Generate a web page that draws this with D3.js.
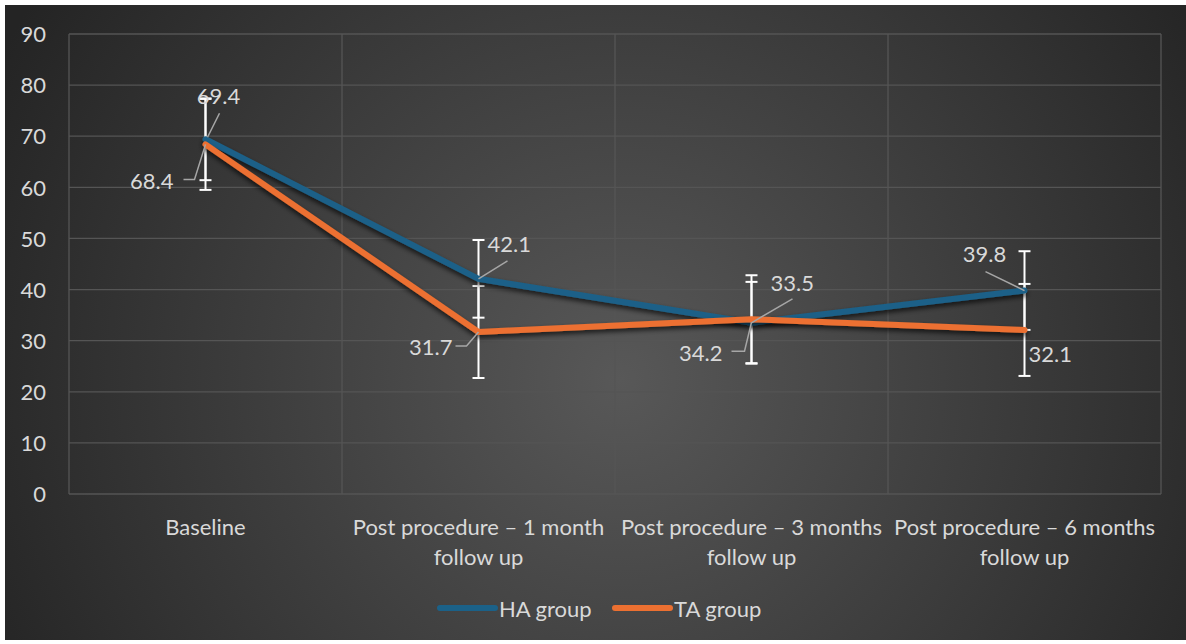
<!DOCTYPE html>
<html><head><meta charset="utf-8">
<script src="https://cdn.jsdelivr.net/npm/d3@7"></script>
<style>
html,body{margin:0;padding:0;background:#fff;}
svg{display:block;}
text{font-family:Lato,"Open Sans",sans-serif;}
</style></head>
<body>
<svg id="chart" width="1186" height="644"></svg>
<script>
const categories = [
  ["Baseline"],
  ["Post procedure – 1 month", "follow up"],
  ["Post procedure – 3 months", "follow up"],
  ["Post procedure – 6 months", "follow up"]
];
const seriesNames = ["HA group", "TA group"];
const haValues = [69.4, 42.1, 33.5, 39.8];
const taValues = [68.4, 31.7, 34.2, 32.1];
const haErrors = [8.0, 7.6, 8.0, 7.7];
const taErrors = [8.9, 9.0, 8.6, 9.0];
const yTicks = [0, 10, 20, 30, 40, 50, 60, 70, 80, 90];

// label layout (pixel offsets relative to point): text offset, anchor, leader polyline
const haLabelLayout = [
  {dx: 13, dy: -44, anchor: "middle", leader: [[2,-2],[14,-26]]},
  {dx: 9, dy: -35, anchor: "start", leader: [[0,0],[29,-18]]},
  {dx: 19, dy: -40, anchor: "start", leader: [[0,0],[41,-24]]},
  {dx: -40, dy: -37, anchor: "middle", leader: [[0,0],[-39,-19]]}
];
const taLabelLayout = [
  {dx: -32, dy: 36, anchor: "end", leader: [[0,0],[-11,35],[-22,35]]},
  {dx: -26, dy: 15, anchor: "end", leader: [[0,0],[-12,14],[-23,14]]},
  {dx: -29, dy: 33, anchor: "end", leader: [[0,3],[-7,32],[-20,32]]},
  {dx: 4, dy: 24, anchor: "start", leader: null}
];

const FS = 22;
const W = 1186, H = 644;
const svg = d3.select("#chart");
const defs = svg.append("defs");
const rg = defs.append("radialGradient").attr("id","bg")
  .attr("gradientUnits","userSpaceOnUse")
  .attr("cx", 620).attr("cy", 380).attr("r", 700);
rg.append("stop").attr("offset","0%").attr("stop-color","#585858");
rg.append("stop").attr("offset","100%").attr("stop-color","#242424");
const f = defs.append("filter").attr("id","shadow").attr("x","-10%").attr("y","-10%").attr("width","120%").attr("height","130%");
f.append("feDropShadow").attr("dx",0).attr("dy",3).attr("stdDeviation",2.5)
  .attr("flood-color","#000").attr("flood-opacity",0.7);

svg.append("rect").attr("x",5).attr("y",5).attr("width",W-5).attr("height",H-9).attr("fill","url(#bg)");

const pLeft = 69, pRight = 1161, pTop = 34, pBottom = 494;
const x = d3.scaleBand().domain(d3.range(categories.length)).range([pLeft, pRight]).paddingInner(0).paddingOuter(0);
const y = d3.scaleLinear().domain([0, 90]).range([pBottom, pTop]);
const cx = i => x(i) + x.bandwidth()/2;

const gridColor = "#555555";
svg.append("g").selectAll("line").data(yTicks).join("line")
  .attr("x1", pLeft).attr("x2", pRight)
  .attr("y1", d => y(d)).attr("y2", d => y(d))
  .attr("stroke", gridColor).attr("stroke-width", 1.3);
const bounds = d3.range(categories.length).map(i => x(i)).concat([pRight]);
svg.append("g").selectAll("line").data(bounds).join("line")
  .attr("x1", d => d).attr("x2", d => d)
  .attr("y1", pTop).attr("y2", pBottom)
  .attr("stroke", gridColor).attr("stroke-width", 1.3);

const yAxis = d3.axisLeft(y).tickValues(yTicks).tickSize(0).tickPadding(0);
const ya = svg.append("g").attr("transform", `translate(${46},0)`).call(yAxis);
ya.select(".domain").remove();
ya.selectAll("text").attr("fill","#d9d9d9").attr("font-size", FS).attr("font-family","Lato, 'Open Sans', sans-serif")
  .attr("dy", "0.35em").attr("x", 0);

const xl = svg.append("g");
categories.forEach((lines, i) => {
  lines.forEach((t, j) => {
    xl.append("text").attr("x", cx(i)).attr("y", 526 + j*30)
      .attr("text-anchor","middle").attr("dominant-baseline","central")
      .attr("fill","#d9d9d9").attr("font-size",FS).text(t);
  });
});

function errorBars(vals, errs) {
  const g = svg.append("g");
  vals.forEach((v, i) => {
    const xc = cx(i), y1 = y(v + errs[i]), y2 = y(v - errs[i]);
    g.append("line").attr("x1",xc).attr("x2",xc).attr("y1",y1).attr("y2",y2)
      .attr("stroke","#ffffff").attr("stroke-width",2);
    [y1, y2].forEach(yy => g.append("line").attr("x1",xc-6).attr("x2",xc+6).attr("y1",yy).attr("y2",yy)
      .attr("stroke","#ffffff").attr("stroke-width",2));
  });
}
errorBars(haValues, haErrors);
errorBars(taValues, taErrors);

const colors = ["#1b6188", "#ec7031"];
const line = d3.line().x((d,i) => cx(i)).y(d => y(d));
[haValues, taValues].forEach((vals, k) => {
  svg.append("path").datum(vals).attr("d", line)
    .attr("fill","none").attr("stroke", colors[k]).attr("stroke-width",6)
    .attr("stroke-linejoin","round").attr("stroke-linecap","round")
    .attr("filter","url(#shadow)");
});

function labels(vals, layout) {
  const g = svg.append("g");
  vals.forEach((v, i) => {
    const px = cx(i), py = y(v), L = layout[i];
    if (L.leader) {
      g.append("polyline").attr("points", L.leader.map(p => [px+p[0], py+p[1]].join(",")).join(" "))
        .attr("fill","none").attr("stroke","#a6a6a6").attr("stroke-width",1.5);
    }
    g.append("text").attr("x", px + L.dx).attr("y", py + L.dy)
      .attr("text-anchor", L.anchor).attr("dominant-baseline","central")
      .attr("fill","#d9d9d9").attr("font-size",FS).text(v.toFixed(1));
  });
}
labels(haValues, haLabelLayout);
labels(taValues, taLabelLayout);

const lg = svg.append("g");
const legendX = [440, 615];
seriesNames.forEach((n, k) => {
  lg.append("line").attr("x1", legendX[k]).attr("x2", legendX[k]+55).attr("y1",608).attr("y2",608)
    .attr("stroke", colors[k]).attr("stroke-width",6).attr("stroke-linecap","round");
  lg.append("text").attr("x", legendX[k]+59).attr("y",608).attr("dominant-baseline","central")
    .attr("fill","#d9d9d9").attr("font-size",FS).text(n);
});
</script>
</body></html>
